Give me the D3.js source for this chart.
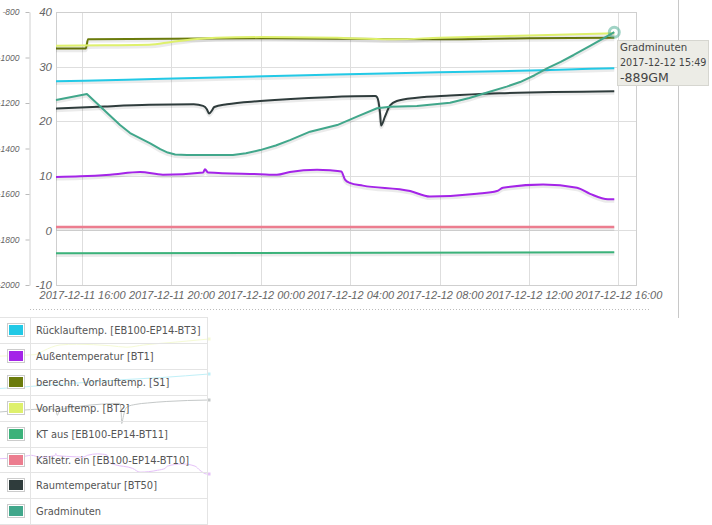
<!DOCTYPE html>
<html><head><meta charset="utf-8">
<script src="https://cdn.jsdelivr.net/npm/d3@7"></script>
<style>body{margin:0;background:#fff}svg{display:block}</style>
</head><body><svg id="c" width="712" height="525"></svg>
<script>
// ---------- data ----------
const xTickLabels = ["2017-12-11 16:00","2017-12-11 20:00","2017-12-12 00:00","2017-12-12 04:00","2017-12-12 08:00","2017-12-12 12:00","2017-12-12 16:00"];
const yTicks = [-10,0,10,20,30,40];
const y2Ticks = [-2000,-1800,-1600,-1400,-1200,-1000,-800];
const xDomain = ["2017-12-11 14:50","2017-12-12 16:50"];

const seriesNames = ["Rücklauftemp. [EB100-EP14-BT3]","Außentemperatur [BT1]","berechn. Vorlauftemp. [S1]","Vorlauftemp. [BT2]","KT aus [EB100-EP14-BT11]","Kältetr. ein [EB100-EP14-BT10]","Raumtemperatur [BT50]","Gradminuten"];
const seriesColors = ["#22c9e6","#a424e8","#6b7b0c","#def06c","#3bb27a","#ec7d8f","#2f3c3c","#41a78b"];

const ruecklaufTimes = ["2017-12-11 14:50","2017-12-11 18:00","2017-12-11 22:00","2017-12-12 02:00","2017-12-12 06:00","2017-12-12 10:00","2017-12-12 13:00","2017-12-12 15:49"];
const ruecklaufValues = [27.3,27.6,28.0,28.4,28.8,29.1,29.4,29.7];

const aussenTimes = ["2017-12-11 14:50","2017-12-11 15:55","2017-12-11 17:15","2017-12-11 18:36","2017-12-11 19:37","2017-12-11 21:25","2017-12-11 21:30","2017-12-11 21:38","2017-12-11 23:58","2017-12-12 00:43","2017-12-12 01:18","2017-12-12 02:31","2017-12-12 03:06","2017-12-12 03:36","2017-12-12 03:46","2017-12-12 03:59","2017-12-12 04:34","2017-12-12 06:41","2017-12-12 07:34","2017-12-12 09:40","2017-12-12 10:34","2017-12-12 10:50","2017-12-12 12:38","2017-12-12 14:09","2017-12-12 14:44","2017-12-12 15:32","2017-12-12 15:49"];
const aussenValues = [9.8,9.9,10.2,10.7,10.2,10.6,11.2,10.6,10.3,10.2,10.7,11.1,11.0,10.8,9.3,8.7,8.2,7.2,6.2,6.7,7.2,7.8,8.4,7.8,6.7,5.7,5.7];

const berechnTimes = ["2017-12-11 14:50","2017-12-11 16:10","2017-12-11 16:16","2017-12-11 20:00","2017-12-12 00:00","2017-12-12 04:00","2017-12-12 08:00","2017-12-12 12:00","2017-12-12 15:49"];
const berechnValues = [33.3,33.3,35.0,35.1,35.2,35.1,35.0,35.2,35.3];

const vorlaufTimes = ["2017-12-11 14:50","2017-12-11 17:00","2017-12-11 19:00","2017-12-11 20:00","2017-12-11 21:00","2017-12-11 22:00","2017-12-12 00:00","2017-12-12 04:00","2017-12-12 06:00","2017-12-12 08:00","2017-12-12 12:00","2017-12-12 15:49"];
const vorlaufValues = [33.8,33.9,34.0,34.5,35.0,35.3,35.4,35.2,35.0,35.3,35.7,36.1];

const ktAusTimes = ["2017-12-11 14:50","2017-12-12 15:49"];
const ktAusValues = [-4.2,-4.0];

const kaeltetrTimes = ["2017-12-11 14:50","2017-12-12 15:49"];
const kaeltetrValues = [0.6,0.6];

const raumTimes = ["2017-12-11 14:50","2017-12-11 17:00","2017-12-11 19:00","2017-12-11 21:00","2017-12-11 21:25","2017-12-11 21:35","2017-12-11 21:41","2017-12-11 21:48","2017-12-11 21:55","2017-12-11 22:29","2017-12-11 23:58","2017-12-12 03:00","2017-12-12 05:07","2017-12-12 05:12","2017-12-12 05:20","2017-12-12 05:23","2017-12-12 05:33","2017-12-12 05:47","2017-12-12 06:05","2017-12-12 06:59","2017-12-12 08:28","2017-12-12 10:42","2017-12-12 15:49"];
const raumValues = [22.3,22.7,23.0,23.1,22.8,22.2,21.4,21.9,22.6,23.1,23.7,24.4,24.6,24.4,21.5,19.2,20.8,22.9,23.7,24.3,24.7,25.1,25.5];

const gradTimes = ["2017-12-11 14:50","2017-12-11 16:13","2017-12-11 17:42","2017-12-11 18:09","2017-12-11 19:03","2017-12-11 19:30","2017-12-11 19:50","2017-12-11 20:10","2017-12-11 20:42","2017-12-11 22:45","2017-12-11 23:20","2017-12-11 23:58","2017-12-12 00:40","2017-12-12 01:18","2017-12-12 02:12","2017-12-12 03:25","2017-12-12 04:18","2017-12-12 05:12","2017-12-12 05:47","2017-12-12 06:59","2017-12-12 08:28","2017-12-12 09:20","2017-12-12 10:12","2017-12-12 11:00","2017-12-12 11:36","2017-12-12 12:15","2017-12-12 12:51","2017-12-12 13:25","2017-12-12 14:00","2017-12-12 14:44","2017-12-12 15:15","2017-12-12 15:49"];
const gradValues = [-1187,-1160,-1297,-1332,-1377,-1403,-1418,-1426,-1429,-1429,-1421,-1407,-1387,-1363,-1326,-1297,-1260,-1223,-1216,-1213,-1199,-1178,-1152,-1128,-1108,-1078,-1046,-1019,-989,-949,-920,-889];

const tooltipLines = ["Gradminuten","2017-12-12 15:49","-889GM"];
const tooltipTime = "2017-12-12 15:49";
const tooltipValue = -889;

// faint ghost overview behind the legend (series index, end level in the small view)
const ghostSeries = [3,0,6,1];
const ghostLevels = [5.7,25.5,29.8,34.5];

// ---------- drawing ----------
const parse = d3.timeParse("%Y-%m-%d %H:%M");
const svg = d3.select("#c");
const L=56,R=637,T=12,B=285;
const x = d3.scaleTime().domain(xDomain.map(parse)).range([L,R]);
const y = d3.scaleLinear().domain([-10,40]).range([B,T]);
const y2 = d3.scaleLinear().domain([-2000,-800]).range([B,T]);
const axisFont = "'Liberation Sans', Arial, sans-serif";
const textFont = "'DejaVu Sans', Verdana, sans-serif";

const series = [
  {t:ruecklaufTimes,v:ruecklaufValues,ys:y,w:2,c:d3.curveMonotoneX},
  {t:aussenTimes,v:aussenValues,ys:y,w:2,c:d3.curveMonotoneX},
  {t:berechnTimes,v:berechnValues,ys:y,w:2,c:d3.curveMonotoneX},
  {t:vorlaufTimes,v:vorlaufValues,ys:y,w:2,c:d3.curveMonotoneX},
  {t:ktAusTimes,v:ktAusValues,ys:y,w:2,c:d3.curveLinear},
  {t:kaeltetrTimes,v:kaeltetrValues,ys:y,w:2.5,c:d3.curveLinear},
  {t:raumTimes,v:raumValues,ys:y,w:2,c:d3.curveMonotoneX},
  {t:gradTimes,v:gradValues,ys:y2,w:2,c:d3.curveLinear}
];

// ghost overview (very faint)
const gx = d3.scaleTime().domain([parse(ruecklaufTimes[0]), parse(ruecklaufTimes[ruecklaufTimes.length-1])]).range([0,209]);
const gy = d3.scaleLinear().domain(ghostLevels).range([474,400,374,339]);
const ghost = svg.append("g").attr("opacity",0.28);
ghostSeries.forEach((si,k)=>{
  const s = series[si];
  const endLvl = [34.5,29.8,25.5,5.7][k];
  const pts = s.t.map((t,j)=>[gx(parse(t)), gy(s.v[j] - s.v[s.v.length-1] + endLvl)]);
  ghost.append("path").attr("d",d3.line().curve(d3.curveMonotoneX)(pts)).attr("fill","none")
    .attr("stroke",seriesColors[si]).attr("stroke-width",1);
  const e = pts[pts.length-1];
  ghost.append("rect").attr("x",e[0]-1.5).attr("y",e[1]-1.5).attr("width",3).attr("height",3).attr("fill",seriesColors[si]);
});

// grid
const g = svg.append("g");
g.selectAll(".hg").data(yTicks).join("line")
  .attr("x1",L).attr("x2",R).attr("y1",d=>Math.round(y(d))+0.5).attr("y2",d=>Math.round(y(d))+0.5)
  .attr("stroke","#dedede");
g.selectAll(".vg").data(xTickLabels.map(parse)).join("line")
  .attr("y1",T).attr("y2",B).attr("x1",d=>Math.round(x(d))+0.5).attr("x2",d=>Math.round(x(d))+0.5)
  .attr("stroke","#dedede");
g.append("rect").attr("x",L+0.5).attr("y",T+0.5).attr("width",R-L-1).attr("height",B-T)
  .attr("fill","none").attr("stroke","#cfcfcf");

// left axis
const ax = svg.append("g").attr("transform",`translate(${L},0)`)
  .call(d3.axisLeft(y).tickValues(yTicks).tickSize(0).tickPadding(4).tickFormat(d=>String(d)));
ax.select(".domain").remove();
ax.selectAll("text").attr("font-family",axisFont).attr("font-style","italic").attr("font-size",11.5).attr("fill","#666");

// second axis (Gradminuten)
const ax2 = svg.append("g").attr("transform",`translate(29.5,0)`)
  .call(d3.axisLeft(y2).tickValues(y2Ticks).tickSize(4).tickSizeOuter(0).tickPadding(6).tickFormat(d=>String(d)));
ax2.select(".domain").attr("stroke","#d0d0d0");
ax2.selectAll(".tick line").attr("stroke","#bbb");
ax2.selectAll("text").attr("font-family",axisFont).attr("font-style","italic").attr("font-size",8.5).attr("fill","#666");

// x axis
const axx = svg.append("g").attr("transform",`translate(0,${B})`)
  .call(d3.axisBottom(x).tickValues(xTickLabels.map(parse)).tickSize(0).tickPadding(6).tickFormat(d3.timeFormat("%Y-%m-%d %H:%M")));
axx.select(".domain").remove();
axx.selectAll("text").attr("font-family",axisFont).attr("font-style","italic").attr("font-size",11).attr("fill","#666");

// series
const plot = svg.append("g");
series.forEach((s,i)=>{
  const pts = s.t.map((t,j)=>[x(parse(t)), s.ys(s.v[j])]);
  const line = d3.line().curve(s.c);
  plot.append("path").attr("d",line(pts)).attr("fill","none")
    .attr("stroke","rgba(0,0,0,0.08)").attr("stroke-width",s.w+1.5).attr("transform","translate(0,1.8)")
    .attr("stroke-linejoin","round");
  plot.append("path").attr("d",line(pts)).attr("fill","none")
    .attr("stroke",seriesColors[i]).attr("stroke-width",s.w).attr("stroke-linejoin","round");
});

// highlight + tooltip
const hx = x(parse(tooltipTime)), hy = y2(tooltipValue);
svg.append("circle").attr("cx",hx).attr("cy",hy).attr("r",5).attr("fill","none")
  .attr("stroke",seriesColors[7]).attr("stroke-opacity",0.5).attr("stroke-width",3);

// right separator & dotted line
svg.append("line").attr("x1",678.5).attr("x2",678.5).attr("y1",0).attr("y2",318).attr("stroke","#c8c8c8");
svg.append("line").attr("x1",30).attr("x2",650).attr("y1",309.5).attr("y2",309.5)
  .attr("stroke","#bbb").attr("stroke-dasharray","1,2");

const tt = svg.append("g");
tt.append("rect").attr("x",617.5).attr("y",40.5).attr("width",91).attr("height",45)
  .attr("fill","#ececE6").attr("stroke","#d6d6d0");
tt.append("text").attr("x",620).attr("y",51).text(tooltipLines[0])
  .attr("font-family",textFont).attr("font-size",10.2).attr("fill","#444");
tt.append("text").attr("x",620).attr("y",66).text(tooltipLines[1])
  .attr("font-family",textFont).attr("font-size",9.6).attr("fill","#444");
tt.append("text").attr("x",620).attr("y",81.5).text(tooltipLines[2])
  .attr("font-family",textFont).attr("font-size",12.5).attr("fill","#444");

// legend
const lg = svg.append("g");
const rowH = 25.9, top0 = 317;
seriesNames.forEach((n,i)=>{
  const ry = top0 + i*rowH;
  lg.append("line").attr("x1",0).attr("x2",207).attr("y1",Math.round(ry)+0.5).attr("y2",Math.round(ry)+0.5).attr("stroke","#e4e4e4");
  lg.append("rect").attr("x",7.5).attr("y",Math.round(ry)+6.5).attr("width",17).attr("height",13)
    .attr("fill","#fff").attr("stroke","#ccc");
  lg.append("rect").attr("x",9).attr("y",Math.round(ry)+8).attr("width",14).attr("height",10)
    .attr("fill",seriesColors[i]);
  lg.append("text").attr("x",36).attr("y",ry+17).text(n)
    .attr("font-family",textFont).attr("font-size",9.9).attr("fill","#555");
});
lg.append("line").attr("x1",0).attr("x2",207).attr("y1",524.5).attr("y2",524.5).attr("stroke","#e4e4e4");
lg.append("line").attr("x1",30.5).attr("x2",30.5).attr("y1",317).attr("y2",525).attr("stroke","#e4e4e4");
lg.append("line").attr("x1",207.5).attr("x2",207.5).attr("y1",317).attr("y2",525).attr("stroke","#e4e4e4");
</script></body></html>
